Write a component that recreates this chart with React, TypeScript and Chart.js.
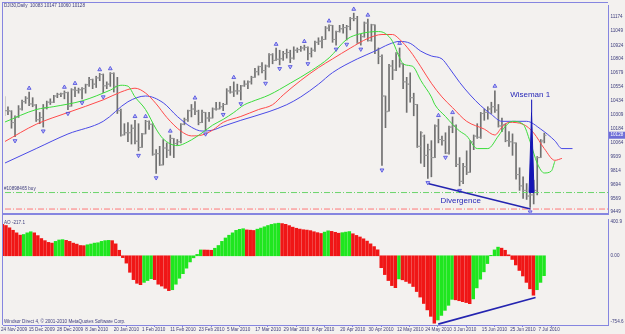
import React, { useEffect, useRef } from 'react';
import { Chart, registerables } from 'chart.js';

Chart.register(...registerables);

const FONT = '"Liberation Sans", Arial, sans-serif';
const BG = '#f3f1ef';
const AXIS = '#8585e0';
const LABEL = '#3c3c7c';
const BAR = '#707070';
const NOTE = '#2828b8';

// ---- x axis (bar index) ----
const xMin = 1.16;
const xMax = 172.06;
const xLabels = ['24 Nov 2009', '15 Dec 2009', '28 Dec 2009', '8 Jan 2010', '20 Jan 2010', '1 Feb 2010', '11 Feb 2010', '23 Feb 2010', '5 Mar 2010', '17 Mar 2010', '29 Mar 2010', '8 Apr 2010', '20 Apr 2010', '30 Apr 2010', '12 May 2010', '24 May 2010', '3 Jun 2010', '15 Jun 2010', '25 Jun 2010', '7 Jul 2010'];
const xLabelBars = [1.16, 8, 16, 24, 32, 40, 48, 56, 64, 72, 80, 88, 96, 104, 112, 120, 128, 136, 144, 152];

// ---- price axis ----
const priceMin = 9440;
const priceMax = 11280;
const priceTicks = [11174, 11049, 10924, 10804, 10679, 10554, 10434, 10309, 10184, 10064, 9939, 9814, 9694, 9569, 9449];
const lastPrice = 10128;
const titleText = 'DJI30,Daily  10083 10147 10060 10128';

// ---- OHLC ----
const opens = [
  10410, 10325, 10345, 10340, 10240, 10290, 10360, 10425, 10455, 10405,
  10395, 10265, 10285, 10370, 10420, 10420, 10475, 10490, 10495, 10505,
  10385, 10530, 10525, 10530, 10540, 10575, 10620, 10580, 10635, 10665,
  10565, 10580, 10675, 10560, 10345, 10130, 10150, 10150, 10190, 10075,
  10020, 10140, 10250, 10225, 9960, 9965, 9865, 10015, 9995, 10100,
  10055, 10070, 10225, 10265, 10345, 10360, 10340, 10240, 10330, 10280,
  10280, 10360, 10360, 10380, 10400, 10520, 10510, 10520, 10520, 10565,
  10580, 10600, 10640, 10690, 10735, 10700, 10740, 10840, 10790, 10800,
  10805, 10850, 10860, 10810, 10880, 10885, 10900, 10905, 10850, 10880,
  10950, 10960, 10975, 11075, 11100, 10975, 11045, 11070, 11080, 11090,
  11160, 11160, 10945, 11000, 11120, 10965, 11105, 10880, 10825, 10475,
  10340, 10740, 10705, 10850, 10760, 10600, 10580, 10460, 10400, 10030,
  10120, 9950, 10000, 9930, 10210, 10090, 10080, 9970, 10200, 10210,
  9870, 9720, 9850, 9800, 10070, 10120, 10110, 10320, 10330, 10360,
  10380, 10350, 10210, 10220, 10080, 10070, 10060, 9780, 9680, 9640,
  9590, 9600, 9640, 9930, 10083,
];
const highs = [
  10460, 10470, 10380, 10345, 10300, 10390, 10440, 10470, 10510, 10460,
  10400, 10330, 10400, 10430, 10450, 10480, 10500, 10500, 10520, 10510,
  10540, 10555, 10545, 10550, 10580, 10640, 10625, 10650, 10675, 10670,
  10600, 10682, 10680, 10640, 10360, 10230, 10240, 10220, 10260, 10230,
  10145, 10260, 10255, 10230, 10000, 10030, 10090, 10060, 10130, 10100,
  10090, 10230, 10280, 10350, 10400, 10425, 10350, 10350, 10330, 10330,
  10370, 10420, 10420, 10410, 10540, 10560, 10600, 10580, 10570, 10610,
  10610, 10650, 10720, 10740, 10770, 10750, 10850, 10850, 10900, 10880,
  10870, 10890, 10880, 10910, 10900, 10915, 10925, 10910, 10900, 10960,
  10990, 11000, 11090, 11105, 11100, 11050, 11100, 11110, 11100, 11170,
  11208, 11180, 11020, 11130, 11155, 11110, 11105, 10900, 10840, 10475,
  10755, 10790, 10860, 10900, 10760, 10640, 10680, 10500, 10400, 10160,
  10130, 10050, 10080, 10220, 10270, 10120, 10150, 10210, 10290, 10220,
  9930, 9880, 9990, 10080, 10130, 10230, 10330, 10360, 10380, 10420,
  10520, 10400, 10280, 10230, 10160, 10140, 10060, 9840, 9760, 9700,
  9640, 9730, 9940, 10090, 10147,
];
const lows = [
  10320, 10300, 10310, 10190, 10115, 10285, 10350, 10410, 10390, 10380,
  10250, 10230, 10200, 10360, 10400, 10415, 10460, 10470, 10450, 10355,
  10385, 10470, 10500, 10450, 10500, 10560, 10540, 10550, 10610, 10505,
  10540, 10560, 10510, 10320, 10120, 10130, 10070, 10050, 10050, 9990,
  10020, 10140, 10180, 9950, 9790, 9860, 9865, 9930, 9950, 9930,
  10040, 10060, 10220, 10250, 10290, 10310, 10220, 10240, 10170, 10250,
  10280, 10350, 10360, 10345, 10400, 10500, 10470, 10490, 10440, 10560,
  10540, 10580, 10640, 10660, 10680, 10620, 10730, 10760, 10790, 10750,
  10790, 10810, 10770, 10800, 10860, 10870, 10880, 10795, 10820, 10870,
  10930, 10900, 10975, 11050, 10950, 10925, 11040, 11030, 10970, 11060,
  11140, 10940, 10925, 10995, 10960, 10960, 10850, 10760, 9860, 10195,
  10340, 10620, 10700, 10730, 10540, 10330, 10420, 10300, 10020, 9880,
  9850, 9745, 9760, 9930, 10060, 10040, 9965, 9960, 10150, 9850,
  9680, 9700, 9780, 9800, 10000, 10100, 10100, 10260, 10270, 10320,
  10330, 10200, 10160, 10070, 10030, 9950, 9740, 9640, 9570, 9560,
  9490, 9520, 9600, 9930, 10060,
];
const closes = [
  10320, 10345, 10345, 10240, 10290, 10360, 10425, 10455, 10405, 10395,
  10265, 10285, 10370, 10420, 10420, 10475, 10490, 10495, 10505, 10385,
  10530, 10525, 10530, 10540, 10575, 10620, 10580, 10635, 10665, 10565,
  10580, 10675, 10560, 10345, 10130, 10150, 10150, 10190, 10075, 10020,
  10140, 10250, 10225, 9960, 9965, 9865, 10015, 9995, 10100, 10055,
  10070, 10225, 10265, 10345, 10360, 10340, 10240, 10330, 10280, 10280,
  10360, 10360, 10380, 10400, 10520, 10510, 10520, 10520, 10565, 10580,
  10600, 10640, 10690, 10735, 10700, 10740, 10840, 10790, 10800, 10805,
  10850, 10860, 10810, 10880, 10885, 10900, 10905, 10850, 10880, 10950,
  10960, 10975, 11075, 11100, 10975, 11045, 11070, 11080, 11090, 11160,
  11160, 10945, 11000, 11120, 10965, 11105, 10880, 10825, 10475, 10335,
  10740, 10705, 10850, 10760, 10600, 10580, 10460, 10400, 10030, 10150,
  9950, 10000, 9930, 10210, 10090, 10080, 9970, 10200, 10210, 9870,
  9720, 9850, 9800, 10070, 10120, 10110, 10320, 10330, 10360, 10380,
  10350, 10210, 10220, 10080, 10070, 10060, 9780, 9680, 9640, 9590,
  9600, 9640, 9930, 10070, 10128,
];

// ---- Alligator (already shifted) ----
const jawBars = [1, 10, 19, 29, 36, 41, 46, 50, 54, 57, 60, 63, 68, 76, 81, 85, 90, 94, 101, 106, 110, 113, 116, 119, 122, 125, 127, 130, 133, 136, 139, 142, 145, 149, 153, 157, 159, 162];
const jawValues = [9880, 10010, 10139, 10251, 10424, 10475, 10415, 10294, 10199, 10165, 10173, 10208, 10260, 10337, 10398, 10467, 10579, 10682, 10803, 10872, 10933, 10958, 10941, 10872, 10829, 10803, 10726, 10596, 10484, 10389, 10312, 10251, 10251, 10251, 10182, 10079, 10010, 10010];
const teethBars = [1, 10, 19, 29, 34, 38, 41, 44, 47, 51, 54, 57, 60, 63, 68, 73, 77, 80, 85, 90, 94, 99, 104, 108, 111, 113, 116, 119, 122, 125, 128, 132, 137, 140, 142, 144, 148, 151, 154, 157, 159];
const teethValues = [10070, 10225, 10329, 10441, 10510, 10544, 10501, 10406, 10286, 10165, 10122, 10130, 10173, 10242, 10294, 10355, 10398, 10484, 10613, 10726, 10803, 10898, 10984, 11019, 11019, 10976, 10872, 10734, 10588, 10467, 10372, 10251, 10182, 10130, 10199, 10242, 10225, 10148, 10010, 9906, 9923];
const lipsBars = [1, 10, 15, 23, 31, 34, 36, 38, 41, 44, 46, 50, 53, 57, 60, 63, 66, 69, 71, 76, 82, 88, 93, 98, 102, 107, 109, 111, 113, 114, 116, 117, 119, 122, 123, 126, 128, 130, 132, 135, 138, 141, 143, 145, 148, 150, 152, 154, 156, 157];
const lipsValues = [10243, 10355, 10381, 10432, 10527, 10570, 10562, 10467, 10355, 10182, 10096, 10036, 10070, 10148, 10217, 10268, 10329, 10398, 10424, 10484, 10588, 10700, 10812, 10976, 11027, 11045, 11027, 10958, 10812, 10760, 10743, 10730, 10613, 10467, 10398, 10294, 10225, 10165, 10122, 10010, 10010, 10122, 10208, 10251, 10225, 10070, 9880, 9794, 9811, 9898];

// ---- Fractals ----
const fractalUpBars = [8, 18, 21, 28, 31, 38, 41, 48, 55, 66, 78, 86, 93, 100, 104, 113, 124, 128, 140];
const fractalUpValues = [10544, 10553, 10587, 10708, 10717, 10294, 10294, 10165, 10458, 10639, 10933, 10958, 11139, 11243, 11191, 10941, 10303, 10329, 10562];
const fractalDownBars = [4, 12, 19, 23, 29, 39, 44, 58, 63, 68, 75, 79, 82, 87, 95, 98, 102, 108, 121, 126, 130, 150];
const fractalDownValues = [10079, 10165, 10320, 10415, 10467, 9949, 9751, 10139, 10311, 10406, 10587, 10717, 10734, 10760, 10889, 10932, 10889, 9820, 9708, 9932, 9639, 9449];

// ---- order lines & annotations ----
const buyOrderLevel = 9621;
const stopLevel = 9475;
const orderLabel = '#10898465 buy';
const divergenceBars = [121.3, 150.1];
const divergenceValues = [9699, 9475];
const divergenceText = 'Divergence';
const divergenceTextAt = [130.3, 9544];
const wisemanText = 'Wiseman 1';
const wisemanTextAt = [150, 10490];
const wisemanStemBars = [150.4, 150.4];
const wisemanStemValues = [10441, 10330];
const wisemanWedgeBars = [150.4, 151.1, 149.7, 150.4];
const wisemanWedgeValues = [10330, 9621, 9621, 10330];

// ---- Awesome Oscillator ----
const aoValues = [
  352, 344, 330, 305, 278, 250, 225, 232, 250, 262,
  250, 220, 188, 165, 146, 138, 157, 172, 176, 168,
  157, 138, 127, 112, 110, 120, 128, 138, 142, 157,
  165, 168, 165, 130, 60, -20, -80, -180, -260, -300,
  -315, -290, -270, -250, -260, -310, -330, -355, -380, -370,
  -310, -245, -195, -135, -67, -22, 15, 64, 63, 62,
  60, 82, 112, 157, 194, 224, 250, 277, 288, 295,
  282, 279, 276, 290, 302, 316, 330, 342, 350, 355,
  351, 343, 329, 312, 300, 291, 284, 280, 274, 262,
  252, 243, 258, 272, 266, 256, 246, 252, 258, 264,
  240, 222, 205, 185, 160, 130, 100, 65, -130, -205,
  -270, -325, -348, -252, -262, -280, -300, -335, -390, -450,
  -520, -590, -660, -735, -700, -650, -595, -540, -475, -480,
  -490, -500, -510, -522, -470, -350, -255, -175, -85, 5,
  64, 94, 83, 60, 10, -40, -100, -160, -220, -290,
  -360, -430, -370, -290, -217,
];
const aoMin = -754.6;
const aoMax = 400.9;
const aoTicks = [400.9, 0, -754.6];
const aoTickLabels = ['400.9', '0.00', '-754.6'];
const aoDivBars = [124.1, 151.6];
const aoDivValues = [-745, -455];
const aoLabel = 'AO -217.1';
const copyright = 'Windsor Direct 4, \u00a9 2001-2010 MetaQuotes Software Corp.';

const pts = (xs: number[], ys: number[]) => xs.map((x, i) => ({ x, y: ys[i] }));

export default function App() {
  const mainRef = useRef<HTMLCanvasElement | null>(null);
  const aoRef = useRef<HTMLCanvasElement | null>(null);

  useEffect(() => {
    document.body.style.margin = '0';
    document.body.style.background = BG;

    const mainPlugin = {
      id: 'mainDecor',
      afterDraw(chart: any) {
        const { ctx, chartArea, scales } = chart;
        const xs = scales.x;
        const ys = scales.y;
        ctx.save();
        ctx.fillStyle = AXIS;
        ctx.fillRect(2, 2, chartArea.right - 2, 1);
        ctx.fillRect(2, 2, 1, chart.height - 2);
        ctx.fillRect(2, chartArea.bottom, chartArea.right - 1, 2);
        ctx.font = `4.6px ${FONT}`;
        ctx.fillStyle = LABEL;
        ctx.textAlign = 'left';
        ctx.textBaseline = 'middle';
        priceTicks.forEach((v) => ctx.fillText(String(v), chartArea.right + 2.5, ys.getPixelForValue(v)));
        const ly = ys.getPixelForValue(lastPrice);
        ctx.fillStyle = '#6d6dd6';
        ctx.fillRect(chartArea.right + 1, ly - 3.5, 16, 7);
        ctx.fillStyle = '#ffffff';
        ctx.fillText(String(lastPrice), chartArea.right + 2.5, ly);
        ctx.fillStyle = LABEL;
        ctx.textBaseline = 'top';
        ctx.fillText(titleText, 4, 3);
        ctx.textBaseline = 'middle';
        ctx.fillText(orderLabel, 4, ys.getPixelForValue(buyOrderLevel) - 4);
        ctx.font = `8px ${FONT}`;
        ctx.fillStyle = NOTE;
        ctx.textAlign = 'center';
        ctx.fillText(divergenceText, xs.getPixelForValue(divergenceTextAt[0]), ys.getPixelForValue(divergenceTextAt[1]));
        ctx.fillText(wisemanText, xs.getPixelForValue(wisemanTextAt[0]), ys.getPixelForValue(wisemanTextAt[1]));
        ctx.restore();
      },
    };

    const aoColors = aoValues.map((v, i) => (i > 0 && v > aoValues[i - 1] ? '#1fe61f' : '#f01616'));

    const aoPlugin = {
      id: 'aoDecor',
      afterDraw(chart: any) {
        const { ctx, chartArea, scales } = chart;
        const xs = scales.x;
        const ys = scales.y;
        ctx.save();
        ctx.fillStyle = AXIS;
        ctx.fillRect(2, 0, 1, chartArea.bottom);
        ctx.font = `4.6px ${FONT}`;
        ctx.fillStyle = LABEL;
        ctx.textAlign = 'left';
        ctx.textBaseline = 'middle';
        aoTicks.forEach((v, k) => {
          let y = ys.getPixelForValue(v);
          y = Math.max(chartArea.top + 2.5, Math.min(chartArea.bottom - 3, y));
          ctx.fillText(aoTickLabels[k], chartArea.right + 2.5, y);
        });
        xLabelBars.forEach((v, k) => {
          const px = xs.getPixelForValue(v);
          ctx.fillText(xLabels[k], k === 0 ? px - 2 : px + 1.5, chartArea.bottom + 5);
        });
        ctx.textBaseline = 'top';
        ctx.fillText(aoLabel, 4, chartArea.top + 1);
        ctx.textBaseline = 'bottom';
        ctx.fillText(copyright, 4, chartArea.bottom - 1);
        ctx.restore();
      },
    };

    const yAxisCommon = {
      type: 'linear',
      position: 'right',
      ticks: { display: false },
      grid: { display: false, drawTicks: false },
      border: { display: true, color: AXIS, width: 1 },
      afterFit: (s: any) => { s.width = 17; },
    };

    const fractalStyle = { pointStyle: 'triangle', radius: 2.2, backgroundColor: 'rgba(150,150,255,0.55)', borderColor: '#4646dc', borderWidth: 0.8, order: 2 };

    const mainChart = new Chart(mainRef.current as HTMLCanvasElement, {
      type: 'bar',
      data: {
        datasets: [
          { type: 'line', data: pts(wisemanWedgeBars, wisemanWedgeValues), borderColor: '#1414b4', backgroundColor: '#1414b4', borderWidth: 1, pointRadius: 0, fill: 'shape', order: 0 } as any,
          { type: 'line', data: pts(wisemanStemBars, wisemanStemValues), borderColor: '#3030c0', borderWidth: 1, pointRadius: 0, order: 0 } as any,
          { type: 'line', data: pts(divergenceBars, divergenceValues), borderColor: '#2424b0', borderWidth: 1.6, pointRadius: 0, order: 1 } as any,
          { type: 'scatter', data: pts(fractalUpBars, fractalUpValues), ...fractalStyle } as any,
          { type: 'scatter', data: pts(fractalDownBars, fractalDownValues), ...fractalStyle, rotation: 180 } as any,
          { type: 'line', data: pts(lipsBars, lipsValues), borderColor: '#3cdc3c', borderWidth: 1, pointRadius: 0, cubicInterpolationMode: 'monotone', order: 3 } as any,
          { type: 'line', data: pts(teethBars, teethValues), borderColor: '#ff4a4a', borderWidth: 1, pointRadius: 0, cubicInterpolationMode: 'monotone', order: 3 } as any,
          { type: 'line', data: pts(jawBars, jawValues), borderColor: '#4a4ae6', borderWidth: 1, pointRadius: 0, cubicInterpolationMode: 'monotone', order: 3 } as any,
          { type: 'line', data: [{ x: xMin, y: buyOrderLevel }, { x: xMax, y: buyOrderLevel }], borderColor: '#6cd46c', borderWidth: 1, borderDash: [6, 2, 1, 2], pointRadius: 0, order: 4 } as any,
          { type: 'line', data: [{ x: xMin, y: stopLevel }, { x: xMax, y: stopLevel }], borderColor: '#ff7878', borderWidth: 1, borderDash: [6, 2, 1, 2], pointRadius: 0, order: 4 } as any,
          { type: 'scatter', data: opens.map((o, i) => ({ x: i - 0.3, y: o })), pointStyle: 'line', radius: 1.1, borderColor: '#9a9a9a', borderWidth: 1, order: 5 } as any,
          { type: 'scatter', data: closes.map((c, i) => ({ x: i + 0.3, y: c })), pointStyle: 'line', radius: 1.1, borderColor: '#9a9a9a', borderWidth: 1, order: 5 } as any,
          { type: 'bar', data: highs.map((h, i) => ({ x: i, y: [lows[i], h] })), backgroundColor: BAR, barThickness: 1, grouped: false, order: 6 } as any,
        ],
      },
      options: {
        animation: false,
        responsive: true,
        maintainAspectRatio: false,
        events: [],
        layout: { padding: { top: 3, left: 3, right: 0, bottom: 2 } },
        plugins: { legend: { display: false }, tooltip: { enabled: false } },
        scales: {
          x: { type: 'linear', min: xMin, max: xMax, offset: false, display: false },
          y: { ...yAxisCommon, min: priceMin, max: priceMax },
        },
      } as any,
      plugins: [mainPlugin],
    });

    const aoChart = new Chart(aoRef.current as HTMLCanvasElement, {
      type: 'bar',
      data: {
        datasets: [
          { type: 'line', data: pts(aoDivBars, aoDivValues), borderColor: '#2424b0', borderWidth: 1.6, pointRadius: 0, order: 0 } as any,
          { type: 'bar', data: aoValues.map((v, i) => ({ x: i, y: v })), backgroundColor: aoColors, barThickness: 2.8, grouped: false, order: 1 } as any,
        ],
      },
      options: {
        animation: false,
        responsive: true,
        maintainAspectRatio: false,
        events: [],
        layout: { padding: { top: 1, left: 3, right: 0, bottom: 0 } },
        plugins: { legend: { display: false }, tooltip: { enabled: false } },
        scales: {
          x: {
            type: 'linear', min: xMin, max: xMax, offset: false,
            afterBuildTicks: (s: any) => { s.ticks = xLabelBars.map((v) => ({ value: v })); },
            ticks: { display: false },
            grid: { display: true, drawOnChartArea: false, drawTicks: true, tickLength: 2, color: AXIS },
            border: { display: true, color: AXIS, width: 1 },
            afterFit: (s: any) => { s.height = 9; },
          },
          y: { ...yAxisCommon, min: aoMin, max: aoMax },
        },
      } as any,
      plugins: [aoPlugin],
    });

    return () => {
      mainChart.destroy();
      aoChart.destroy();
    };
  }, []);

  return (
    <div style={{ position: 'relative', width: 625, height: 334, background: BG, overflow: 'hidden' }}>
      <div style={{ position: 'absolute', left: 0, top: 0, width: 625, height: 218 }}>
        <canvas ref={mainRef} />
      </div>
      <div style={{ position: 'absolute', left: 0, top: 218, width: 625, height: 116 }}>
        <canvas ref={aoRef} />
      </div>
    </div>
  );
}
